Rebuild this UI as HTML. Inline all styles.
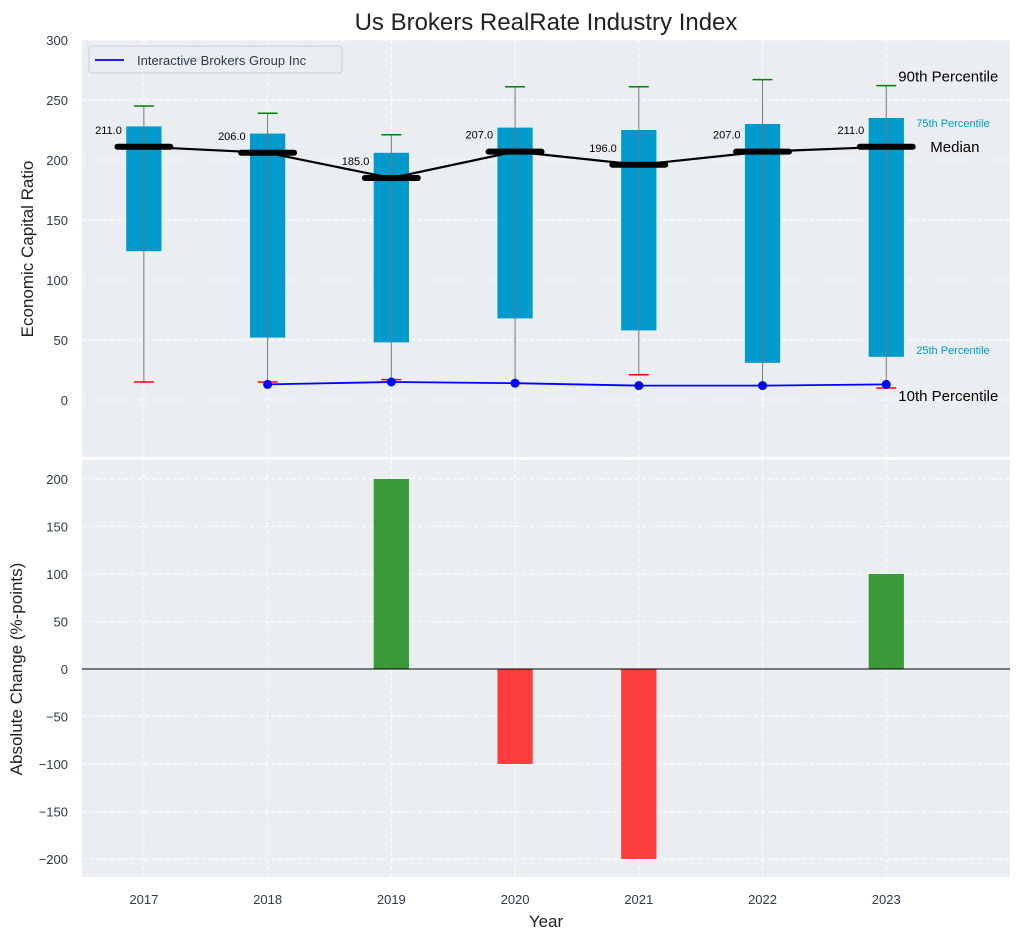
<!DOCTYPE html>
<html><head><meta charset="utf-8"><style>
body{margin:0;background:#fff;}
text{font-family:"Liberation Sans",sans-serif;}
</style></head><body>
<svg id="c" width="1021" height="940" xmlns="http://www.w3.org/2000/svg"></svg>
<script>
const years=[2017,2018,2019,2020,2021,2022,2023];
const p25=[124,52,48,68,58,31,36];
const p75=[228,222,206,227,225,230,235];
const p10=[15,15,17,14,21,12,10];
const p90=[245,239,221,261,261,267,262];
const medians=[211,206,185,207,196,207,211];
const companyYears=[2018,2019,2020,2021,2022,2023];
const companyVals=[13,15,14,12,12,13];
const changes=[0,0,200,-100,-200,0,100];
const topTicks=[0,50,100,150,200,250,300];
const botTicks=[-200,-150,-100,-50,0,50,100,150,200];

const svg=document.getElementById('c');
const NS='http://www.w3.org/2000/svg';
function el(tag,attrs,parent){const e=document.createElementNS(NS,tag);for(const k in attrs)e.setAttribute(k,attrs[k]);(parent||svg).appendChild(e);return e;}
const L=82,R=1010;
const x=v=>L+(v-2016.5)/(2024-2016.5)*(R-L);
const T0=40,T1=457; const yT=v=>T1-(v-(-47.5))/(300+47.5)*(T1-T0);
const B0=460,B1=877; const yB=v=>B1-(v+219)/(439)*(B1-B0);
const bw=x(2017.285)-x(2017);

let bg=el('rect',{x:L,y:T0,width:R-L,height:T1-T0,fill:'#eaeef0'});

let bg2=el('rect',{x:L,y:B0,width:R-L,height:B1-B0,fill:'#eaeef0'});


years.forEach(yr=>{
 el('line',{x1:x(yr),x2:x(yr),y1:T0,y2:T1,stroke:'#fff','stroke-dasharray':'4,3','stroke-width':1});
 el('line',{x1:x(yr),x2:x(yr),y1:B0,y2:B1,stroke:'#fff','stroke-dasharray':'4,3','stroke-width':1});
 const t=el('text',{x:x(yr),y:904,'text-anchor':'middle','font-size':13,fill:'#2d3b4a'});t.textContent=yr;
 
});
topTicks.forEach(v=>{
 el('line',{x1:L,x2:R,y1:yT(v),y2:yT(v),stroke:'#fff','stroke-dasharray':'4,3'});
 const t=el('text',{x:68,y:yT(v)+5,'text-anchor':'end','font-size':13,fill:'#2d3b4a'});t.textContent=v;
 
});
botTicks.forEach(v=>{
 el('line',{x1:L,x2:R,y1:yB(v),y2:yB(v),stroke:'#fff','stroke-dasharray':'4,3'});
 const t=el('text',{x:68,y:yB(v)+5,'text-anchor':'end','font-size':13,fill:'#2d3b4a'});t.textContent=String(v).replace('-','\u2212');
 
});

years.forEach((yr,i)=>{
 const cx=x(yr);
 const b=el('rect',{x:cx-bw/2,y:yT(p75[i]),width:bw,height:yT(p25[i])-yT(p75[i]),fill:'#009acd'});
 
 el('line',{x1:cx,x2:cx,y1:yT(p90[i]),y2:yT(p10[i]),stroke:'#777','stroke-width':1});
 el('line',{x1:cx-10,x2:cx+10,y1:yT(p90[i]),y2:yT(p90[i]),stroke:'green','stroke-width':1.5});
 el('line',{x1:cx-10,x2:cx+10,y1:yT(p10[i]),y2:yT(p10[i]),stroke:'red','stroke-width':1.5});
});
let d=years.map((yr,i)=>(i?'L':'M')+x(yr)+','+yT(medians[i])).join(' ');
el('path',{d:d,fill:'none',stroke:'#000','stroke-width':2.2});
years.forEach((yr,i)=>{
 const m=el('line',{x1:x(yr)-bw*0.75,x2:x(yr)+bw*0.75,y1:yT(medians[i]),y2:yT(medians[i]),stroke:'#000','stroke-width':6,'stroke-linecap':'round'});
 
 const t=el('text',{x:x(yr)-22,y:yT(medians[i])-13,'text-anchor':'end','font-size':11,fill:'#000'});t.textContent=medians[i].toFixed(1);
 
});
d=companyYears.map((yr,i)=>(i?'L':'M')+x(yr)+','+yT(companyVals[i])).join(' ');
let cl=el('path',{d:d,fill:'none',stroke:'blue','stroke-width':1.8});

companyYears.forEach((yr,i)=>{const c=el('circle',{cx:x(yr),cy:yT(companyVals[i]),r:4.5,fill:'blue'});
 });

const lx=x(2023);
[['90th Percentile',lx+12,yT(p90[6])-4,15,'#000'],['75th Percentile',lx+30,yT(p75[6])+9,11,'#009acd'],['Median',lx+44,yT(medians[6])+5,15,'#000'],['25th Percentile',lx+30,yT(p25[6])-3,11,'#009acd'],['10th Percentile',lx+12,yT(p10[6])+13,15,'#000']].forEach(a=>{
 const t=el('text',{x:a[1],y:a[2],'font-size':a[3],fill:a[4]});t.textContent=a[0];
 
});

const lg=el('g',{});
el('rect',{x:89,y:46,width:253,height:27,rx:3,fill:'#eaeef0',stroke:'#ccc'},lg);
el('line',{x1:95,x2:124,y1:60,y2:60,stroke:'blue','stroke-width':1.8},lg);
let lt=el('text',{x:137,y:65,'font-size':13,fill:'#2d3b4a'},lg);lt.textContent='Interactive Brokers Group Inc';

years.forEach((yr,i)=>{
 const v=changes[i];
 const r=el('rect',{x:x(yr)-bw/2,y:Math.min(yB(v),yB(0)),width:bw,height:Math.abs(yB(v)-yB(0)),fill:v>=0?'#3a9a3a':'#fd3d3d'});
 
});
el('line',{x1:L,x2:R,y1:yB(0),y2:yB(0),stroke:'#000','stroke-width':1});

let tt=el('text',{x:546,y:30,'text-anchor':'middle','font-size':24,fill:'#222'});tt.textContent='Us Brokers RealRate Industry Index';

let yt=el('text',{x:0,y:0,'text-anchor':'middle','font-size':17,fill:'#222',transform:'translate(33,249) rotate(-90)'});yt.textContent='Economic Capital Ratio';

let yt2=el('text',{x:0,y:0,'text-anchor':'middle','font-size':17,fill:'#222',transform:'translate(22,669) rotate(-90)'});yt2.textContent='Absolute Change (%-points)';

let xt=el('text',{x:546,y:927,'text-anchor':'middle','font-size':17,fill:'#222'});xt.textContent='Year';

</script>
</body></html>
